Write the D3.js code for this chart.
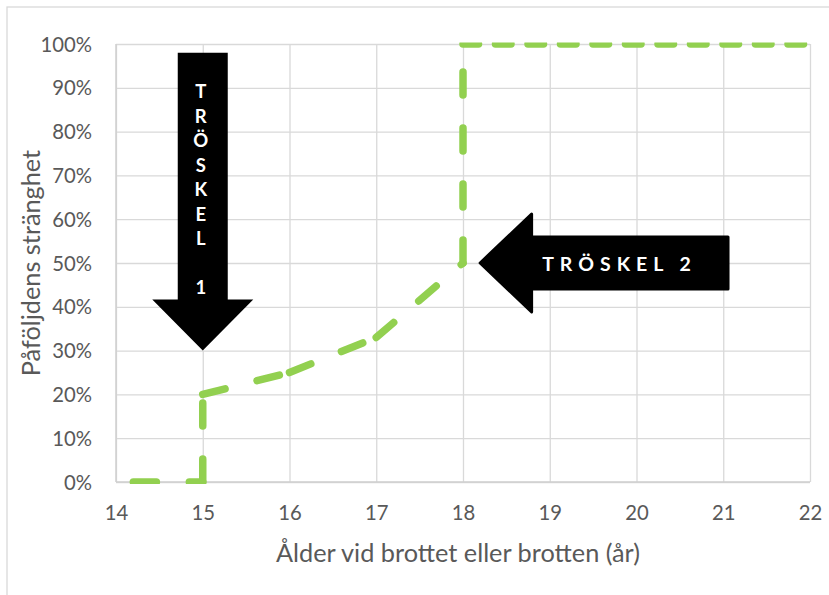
<!DOCTYPE html>
<html>
<head>
<meta charset="utf-8">
<script src="https://cdn.jsdelivr.net/npm/d3@7/dist/d3.min.js"></script>
<style>
  html, body { margin: 0; padding: 0; background: #fff; }
  svg { display: block; }
  text { font-family: Lato, "Open Sans", sans-serif; }
</style>
</head>
<body>
<svg id="chart" width="829" height="595"></svg>
<script>
// ---- data ----
const ages      = [14.2, 15, 15, 16, 17, 18, 18];
const severity  = [0, 0, 0.20, 0.25, 0.33, 0.50, 1.00];
const capAges     = [18, 22];
const capSeverity = [1.00, 1.00];
const xTickValues = [14, 15, 16, 17, 18, 19, 20, 21, 22];
const yTickValues = [0, 0.1, 0.2, 0.3, 0.4, 0.5, 0.6, 0.7, 0.8, 0.9, 1.0];
const xTitle = "Ålder vid brottet eller brotten (år)";
const yTitle = "Påföljdens stränghet";
const threshold1 = { label: "TRÖSKEL 1", age: 15, tipValue: 0.30, tailValue: 0.98 };
const threshold2 = { label: "TRÖSKEL 2", tipAge: 18.18, value: 0.50, tailAge: 21.055 };

// ---- layout ----
const W = 829, H = 595;
const plot = { left: 116, right: 810, top: 44, bottom: 482 };
const green = "#92d050";
const grid = "#d9d9d9";
const textColor = "#595959";

const svg = d3.select("#chart");

// outer chart frame
svg.append("rect").attr("x", 7).attr("y", 7).attr("width", W + 10).attr("height", H + 10)
  .attr("fill", "#fff").attr("stroke", grid).attr("stroke-width", 1.3);

const x = d3.scaleLinear().domain([14, 22]).range([plot.left, plot.right]);
const y = d3.scaleLinear().domain([0, 1]).range([plot.bottom, plot.top]);

// gridlines
const gx = svg.append("g").attr("transform", `translate(0,${plot.bottom})`)
  .call(d3.axisBottom(x).tickValues(xTickValues).tickSize(-(plot.bottom - plot.top)).tickFormat(""));
gx.select(".domain").remove();
gx.selectAll(".tick line").attr("stroke", grid).attr("stroke-width", 1.3);

const gy = svg.append("g").attr("transform", `translate(${plot.left},0)`)
  .call(d3.axisLeft(y).tickValues(yTickValues).tickSize(-(plot.right - plot.left)).tickFormat(""));
gy.select(".domain").remove();
gy.selectAll(".tick line").attr("stroke", grid).attr("stroke-width", 1.3);

// axis lines
svg.append("line").attr("x1", plot.left).attr("x2", plot.left).attr("y1", plot.top).attr("y2", plot.bottom)
  .attr("stroke", "#cfcfcf").attr("stroke-width", 1.5);
svg.append("line").attr("x1", plot.left).attr("x2", plot.right).attr("y1", plot.bottom).attr("y2", plot.bottom)
  .attr("stroke", "#cfcfcf").attr("stroke-width", 1.5);

// tick labels
const xl = svg.append("g").attr("transform", `translate(0,${plot.bottom})`)
  .call(d3.axisBottom(x).tickValues(xTickValues).tickSize(0).tickPadding(0).tickFormat(d3.format("d")));
xl.select(".domain").remove();
xl.selectAll(".tick text").attr("fill", textColor).attr("font-size", 20.3)
  .attr("font-family", "Lato").attr("dy", 0).attr("y", 37.5);

const yl = svg.append("g").attr("transform", `translate(${plot.left},0)`)
  .call(d3.axisLeft(y).tickValues(yTickValues).tickSize(0).tickPadding(0).tickFormat(d3.format(".0%")));
yl.select(".domain").remove();
yl.selectAll(".tick text").attr("fill", textColor).attr("font-size", 20.3)
  .attr("font-family", "Lato").attr("x", -24).attr("dy", "0.35em");

// titles
svg.append("text").attr("x", 458).attr("y", 562).attr("text-anchor", "middle")
  .attr("fill", textColor).attr("font-size", 25.3).text(xTitle);
svg.append("text").attr("transform", `translate(40,${(plot.top + plot.bottom) / 2}) rotate(-90)`)
  .attr("text-anchor", "middle").attr("fill", textColor).attr("font-size", 25.3).text(yTitle);

// clip for series
svg.append("clipPath").attr("id", "clip").append("rect")
  .attr("x", plot.left - 2).attr("y", plot.top - 1.5)
  .attr("width", plot.right - plot.left + 4).attr("height", plot.bottom - plot.top + 3.5);

const series = svg.append("g").attr("clip-path", "url(#clip)");
// main series: dash pattern restarts at each vertex
const pts = ages.map((a, i) => [a, severity[i]]);
const line = d3.line().x(d => x(d[0])).y(d => y(d[1]));
for (let i = 0; i < pts.length - 1; i++) {
  series.append("path").attr("d", line([pts[i], pts[i + 1]]))
    .attr("fill", "none").attr("stroke", green).attr("stroke-width", 7.5)
    .attr("stroke-linecap", "round").attr("stroke-dasharray", "23 33");
}
// top series
const capPts = capAges.map((a, i) => [a, capSeverity[i]]);
series.append("path").attr("d", line(capPts))
  .attr("fill", "none").attr("stroke", green).attr("stroke-width", 7.5)
  .attr("stroke-linecap", "round").attr("stroke-dasharray", "15.5 17");

// ---- annotations ----
// Arrow 1 (down)
{
  const cx = x(threshold1.age), tipY = y(threshold1.tipValue), tailY = y(threshold1.tailValue);
  const sw = 25, hw = 50.5, hl = 51;
  const p = d3.path();
  p.moveTo(cx - sw, tailY); p.lineTo(cx + sw, tailY); p.lineTo(cx + sw, tipY - hl);
  p.lineTo(cx + hw, tipY - hl); p.lineTo(cx, tipY); p.lineTo(cx - hw, tipY - hl);
  p.lineTo(cx - sw, tipY - hl); p.closePath();
  svg.append("path").attr("d", p.toString()).attr("fill", "#000");
  const letters = threshold1.label.split(" ");
  const lines = letters[0].split("").concat(["", letters[1]]);
  svg.append("g").selectAll("text").data(lines).join("text")
    .attr("x", cx - 2).attr("y", (d, i) => 98 + i * 24.5)
    .attr("text-anchor", "middle").attr("fill", "#fff")
    .attr("font-weight", 700).attr("font-size", 18.5).text(d => d);
}
// Arrow 2 (left)
{
  const cy = y(threshold2.value), tipX = x(threshold2.tipAge), tailX = x(threshold2.tailAge);
  const sw = 26, hw = 49, hl = 53;
  const p = d3.path();
  p.moveTo(tailX, cy - sw); p.lineTo(tipX + hl, cy - sw); p.lineTo(tipX + hl, cy - hw);
  p.lineTo(tipX + 1.5, cy); p.lineTo(tipX + hl, cy + hw); p.lineTo(tipX + hl, cy + sw);
  p.lineTo(tailX, cy + sw); p.closePath();
  svg.append("path").attr("d", p.toString()).attr("fill", "#000")
    .attr("stroke", "#000").attr("stroke-width", 3).attr("stroke-linejoin", "round");
  svg.append("text").attr("x", 616.5 + 3).attr("y", cy + 8)
    .attr("text-anchor", "middle").attr("fill", "#fff").attr("font-weight", 700)
    .attr("font-size", 19.5).attr("letter-spacing", 6).text(threshold2.label);
}
</script>
</body>
</html>
